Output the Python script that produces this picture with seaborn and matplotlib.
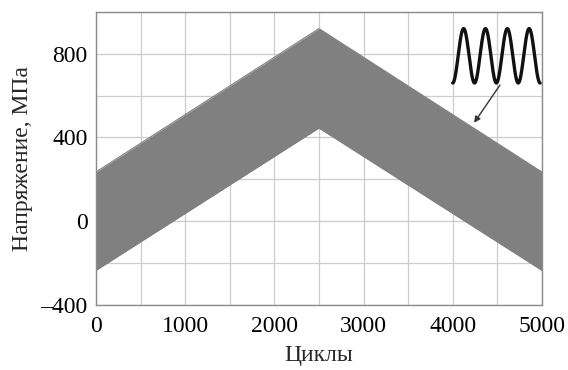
import numpy as np
import pandas as pd
import seaborn as sns
import matplotlib.pyplot as plt
from matplotlib.ticker import MultipleLocator

# band of the stress record: cycle number, upper and lower envelope (MPa)
cycles = [0, 2500, 5000]
upper = [235, 920, 235]
lower = [-235, 445, -235]

# inset sketch of one oscillation group
inset_x = [4000, 4980]
inset_y = [660, 920]
inset_periods = 4

x_ticks = [0, 1000, 2000, 3000, 4000, 5000]
y_ticks = [-400, 0, 400, 800]

sns.set_theme(style="whitegrid")
plt.rcParams['font.family'] = ['Liberation Serif', 'DejaVu Serif']

fig = plt.figure(figsize=(5.68, 3.70), dpi=100)
ax = fig.add_axes([0.169, 0.176, 0.785, 0.792])

df = pd.DataFrame({"cycles": cycles, "upper": upper, "lower": lower})
ax.fill_between(df["cycles"], df["lower"], df["upper"], color="#808080", lw=0, zorder=2)
sns.lineplot(data=df, x="cycles", y="upper", ax=ax, color="#808080", lw=0.8, zorder=2)
sns.lineplot(data=df, x="cycles", y="lower", ax=ax, color="#808080", lw=0.8, zorder=2)

# inset wave
t = np.linspace(0, 1, 400)
wx = inset_x[0] + t * (inset_x[1] - inset_x[0])
mid = (inset_y[0] + inset_y[1]) / 2
amp = (inset_y[1] - inset_y[0]) / 2
wy = mid - amp * np.cos(2 * np.pi * inset_periods * t)
ax.plot(wx, wy, color="#111111", lw=2.4, zorder=3)
ax.annotate("", xy=(4240, 470), xytext=(4530, 650),
            arrowprops=dict(arrowstyle="-|>", color="#333333", lw=1.0,
                            mutation_scale=9, shrinkA=0, shrinkB=0), zorder=3)

ax.set_xlim(0, 5000)
ax.set_ylim(-400, 1000)
ax.set_xticks(x_ticks)
ax.set_yticks(y_ticks)
ax.set_yticklabels([("\u2013" + str(-v)) if v < 0 else str(v) for v in y_ticks])
ax.xaxis.set_minor_locator(MultipleLocator(500))
ax.yaxis.set_minor_locator(MultipleLocator(200))
ax.grid(which="both", color="#cccccc", lw=0.9)
ax.set_axisbelow(True)
for s in ax.spines.values():
    s.set_color("#8c8c8c")
    s.set_linewidth(1.0)
ax.tick_params(which="both", length=0, labelsize=17, colors="black")
ax.tick_params(axis="x", pad=8)
ax.tick_params(axis="y", pad=6)
ax.set_xlabel("Циклы", fontsize=17, labelpad=6)
ax.set_ylabel("Напряжение, МПа", fontsize=17, labelpad=5)

fig.savefig("out.png", dpi=100)
